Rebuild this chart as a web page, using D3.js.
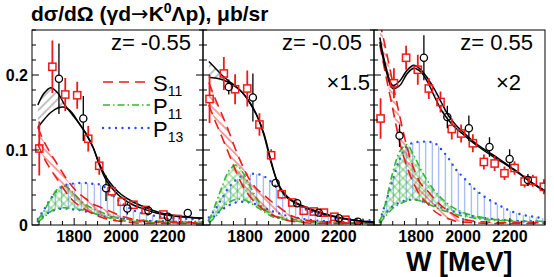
<!DOCTYPE html>
<html><head><meta charset="utf-8">
<script src="https://cdn.jsdelivr.net/npm/d3@7"></script>
<style>body{margin:0;background:#fff} svg{display:block} text{font-family:"Liberation Sans",Arial,sans-serif}</style>
</head><body><svg id="c" width="554" height="277"></svg>
<script>
// ---------- data ----------
const W = [1645,1670,1700,1730,1760,1790,1820,1850,1880,1910,1940,1970,2000,2050,2100,2150,2200,2250,2300,2350];
const panelLabels = ["z= -0.55","z= -0.05","z= 0.55"];
const scaleLabels = ["", "\u00d71.5", "\u00d72"];
const xTickLabels = [1800,2000,2200];
const yTickLabels = [0,0.1,0.2];
const legendNames = [["S","11"],["P","11"],["P","13"]];

const fitA = [
 [0.160,0.175,0.183,0.176,0.160,0.148,0.136,0.122,0.104,0.078,0.058,0.046,0.037,0.027,0.021,0.016,0.013,0.011,0.010,0.009],
 [0.218,0.210,0.200,0.192,0.185,0.176,0.163,0.146,0.122,0.086,0.055,0.039,0.032,0.024,0.018,0.013,0.010,0.007,0.005,0.004],
 [0.250,0.212,0.186,0.192,0.206,0.213,0.207,0.195,0.180,0.162,0.145,0.133,0.124,0.110,0.099,0.089,0.078,0.067,0.055,0.044]];
const fitB = [
 [0.130,0.140,0.150,0.156,0.157,0.150,0.136,0.122,0.104,0.080,0.062,0.050,0.041,0.031,0.024,0.018,0.014,0.012,0.010,0.009],
 [0.197,0.196,0.194,0.190,0.184,0.176,0.163,0.146,0.120,0.084,0.056,0.041,0.033,0.025,0.019,0.014,0.010,0.007,0.005,0.004],
 [0.244,0.208,0.182,0.186,0.201,0.209,0.204,0.190,0.170,0.152,0.139,0.129,0.121,0.108,0.097,0.087,0.077,0.066,0.055,0.046]];
const s11Hi = [
 [0.130,0.112,0.095,0.080,0.065,0.052,0.042,0.035,0.028,0.024,0.020,0.016,0.012,0.008,0.005,0.004,0.004,0.003,0.003,0.003],
 [0.190,0.170,0.148,0.125,0.100,0.078,0.060,0.048,0.040,0.032,0.025,0.018,0.012,0.007,0.005,0.004,0.003,0.003,0.003,0.003],
 [0.270,0.235,0.190,0.145,0.105,0.075,0.055,0.045,0.034,0.025,0.018,0.012,0.008,0.005,0.004,0.003,0.003,0.003,0.003,0.003]];
const s11Lo = [
 [0.108,0.090,0.074,0.060,0.046,0.034,0.026,0.020,0.015,0.011,0.008,0.006,0.005,0.003,0.002,0.002,0.002,0.002,0.002,0.002],
 [0.160,0.140,0.118,0.095,0.072,0.052,0.038,0.028,0.020,0.014,0.010,0.007,0.005,0.003,0.002,0.002,0.002,0.002,0.002,0.002],
 [0.240,0.200,0.155,0.110,0.078,0.055,0.038,0.028,0.018,0.012,0.008,0.005,0.004,0.003,0.002,0.002,0.002,0.002,0.002,0.002]];
const p11Hi = [
 [0.007,0.018,0.035,0.048,0.052,0.045,0.035,0.027,0.022,0.018,0.014,0.011,0.009,0.007,0.006,0.005,0.005,0.004,0.004,0.004],
 [0.005,0.025,0.050,0.072,0.080,0.070,0.052,0.035,0.022,0.015,0.011,0.009,0.008,0.006,0.005,0.004,0.004,0.003,0.003,0.003],
 [0.004,0.030,0.070,0.098,0.107,0.093,0.074,0.058,0.045,0.035,0.027,0.021,0.017,0.012,0.009,0.007,0.006,0.005,0.005,0.005]];
const p11Lo = [
 [0.004,0.010,0.018,0.022,0.023,0.022,0.021,0.019,0.016,0.013,0.010,0.008,0.006,0.005,0.004,0.003,0.003,0.003,0.003,0.003],
 [0.003,0.010,0.022,0.030,0.034,0.034,0.030,0.024,0.018,0.012,0.009,0.007,0.006,0.004,0.003,0.002,0.002,0.002,0.002,0.002],
 [0.002,0.012,0.022,0.028,0.032,0.034,0.032,0.028,0.024,0.020,0.017,0.014,0.012,0.009,0.007,0.006,0.005,0.004,0.004,0.004]];
const p13Hi = [
 [0.008,0.020,0.035,0.047,0.053,0.055,0.056,0.056,0.055,0.054,0.048,0.038,0.030,0.020,0.015,0.012,0.010,0.009,0.008,0.008],
 [0.010,0.020,0.035,0.050,0.060,0.066,0.068,0.068,0.065,0.058,0.049,0.040,0.032,0.022,0.016,0.012,0.009,0.008,0.007,0.006],
 [0.006,0.030,0.060,0.088,0.105,0.110,0.111,0.111,0.109,0.100,0.088,0.074,0.064,0.048,0.036,0.027,0.019,0.014,0.011,0.009]];
const p13Lo = [
 [0.005,0.012,0.018,0.021,0.022,0.021,0.020,0.018,0.016,0.013,0.011,0.010,0.009,0.007,0.006,0.005,0.005,0.004,0.004,0.004],
 [0.006,0.012,0.020,0.026,0.030,0.031,0.030,0.027,0.023,0.019,0.016,0.013,0.011,0.008,0.006,0.005,0.004,0.004,0.003,0.003],
 [0.004,0.015,0.025,0.030,0.033,0.034,0.032,0.029,0.026,0.023,0.020,0.017,0.015,0.011,0.009,0.007,0.006,0.005,0.005,0.004]];

// data points: [W, value, error]
const squares = [
 [[1651,0.102,0.036],[1707,0.211,0.035],[1762,0.174,0.022],[1813,0.173,0.018],[1860,0.115,0.017],[1907,0.079,0.012],[1960,0.045,0.007],[2003,0.031,0.005],[2053,0.027,0.004],[2105,0.020,0.004],[2181,0.014,0.004],[2240,0.008,0.003]],
 [[1648,0.168,0.032],[1709,0.202,0.022],[1757,0.181,0.020],[1809,0.182,0.024],[1861,0.134,0.015],[1911,0.093,0.008],[1956,0.041,0.006],[2001,0.030,0.004],[2050,0.019,0.003],[2093,0.018,0.003],[2136,0.0165,0.003],[2181,0.011,0.003],[2228,0.007,0.002]],
 [[1648,0.142,0.027],[1705,0.189,0.020],[1757,0.223,0.016],[1807,0.207,0.020],[1854,0.182,0.014],[1904,0.164,0.014],[1952,0.128,0.014],[1992,0.122,0.012],[2042,0.109,0.012],[2089,0.084,0.010],[2135,0.082,0.010],[2177,0.069,0.009],[2220,0.076,0.009],[2263,0.058,0.008],[2298,0.059,0.008],[2345,0.051,0.010]]];
const circles = [
 [[1735,0.195,0.047],[1839,0.142,0.030],[1936,0.049,0.017],[2027,0.022,0.008],[2117,0.019,0.006],[2200,0.011,0.004],[2285,0.016,0.004]],
 [[1730,0.184,0.010],[1833,0.170,0.032],[1930,0.056,0.006],[2022,0.029,0.004],[2114,0.0165,0.003],[2200,0.009,0.002],[2281,0.0045,0.002]],
 [[1729,0.119,0.015],[1833,0.223,0.030],[1933,0.144,0.015],[2025,0.129,0.017],[2113,0.104,0.013],[2199,0.088,0.013],[2277,0.060,0.008]]];

// ---------- layout ----------
const svg = d3.select("#c");
const panelX = [32, 203, 374], panelW = 171, yTop = 30, yBot = 225;
const RED = "#f01a1a", GREEN = "#33b833", BLUE = "#2a4cf0", LBLUE = "#8ea8f4";
const y = d3.scaleLinear().domain([0, 0.26]).range([yBot, yTop]);

const defs = svg.append("defs");
function hatch(id, angle, gap, color, w) {
  const p = defs.append("pattern").attr("id", id).attr("patternUnits", "userSpaceOnUse")
    .attr("width", gap).attr("height", gap).attr("patternTransform", `rotate(${angle})`);
  p.append("line").attr("x1", gap/2).attr("x2", gap/2).attr("y1", 0).attr("y2", gap)
    .attr("stroke", color).attr("stroke-width", w);
}
hatch("hBlack", 45, 6, "#333", 0.6);
hatch("hRed", -45, 5.5, RED, 0.8);
hatch("hGreenA", 45, 6, GREEN, 0.7);
hatch("hGreenB", -45, 6, GREEN, 0.7);
hatch("hBlue", 0, 6.5, LBLUE, 1.1);

// title
const title = svg.append("text").attr("x", 31).attr("y", 21).attr("font-size", 21).attr("font-weight", "bold");
title.append("tspan").text("d\u03c3/d\u03a9 (\u03b3d");
title.append("tspan").attr("font-family", "DejaVu Sans").attr("font-weight", "normal").text("\u2192");
title.append("tspan").text("K");
title.append("tspan").attr("dy", -8).attr("font-size", 14).text("0");
title.append("tspan").attr("dy", 8).text("\u039bp), \u03bcb/sr");

panelX.forEach((px, i) => {
  const x = d3.scaleLinear().domain([1620, 2350]).range([px, px + panelW]);
  const g = svg.append("g");
  const cid = "clip" + i;
  defs.append("clipPath").attr("id", cid).append("rect")
    .attr("x", px).attr("y", yTop).attr("width", panelW).attr("height", yBot - yTop);
  const pg = g.append("g").attr("clip-path", `url(#${cid})`);
  const cur = d3.curveCatmullRom.alpha(0.5);
  const band = (lo, hi) => d3.area().x((d, k) => x(W[k])).y0((d, k) => y(lo[k])).y1((d, k) => y(hi[k])).curve(cur)(W);
  const line = arr => d3.line().x((d, k) => x(W[k])).y((d, k) => y(arr[k])).curve(cur)(W);

  // P13 blue band
  pg.append("path").attr("d", band(p13Lo[i], p13Hi[i])).attr("fill", "url(#hBlue)");
  [p13Lo[i], p13Hi[i]].forEach(a => pg.append("path").attr("d", line(a)).attr("fill", "none")
    .attr("stroke", BLUE).attr("stroke-width", 2.4).attr("stroke-dasharray", "0 6.5").attr("stroke-linecap", "round"));
  // P11 green band
  pg.append("path").attr("d", band(p11Lo[i], p11Hi[i])).attr("fill", "url(#hGreenA)");
  pg.append("path").attr("d", band(p11Lo[i], p11Hi[i])).attr("fill", "url(#hGreenB)");
  [p11Lo[i], p11Hi[i]].forEach(a => pg.append("path").attr("d", line(a)).attr("fill", "none")
    .attr("stroke", GREEN).attr("stroke-width", 1.6).attr("stroke-dasharray", "7 3 1.5 3"));
  // S11 red band
  pg.append("path").attr("d", band(s11Lo[i], s11Hi[i])).attr("fill", "url(#hRed)");
  [s11Lo[i], s11Hi[i]].forEach(a => pg.append("path").attr("d", line(a)).attr("fill", "none")
    .attr("stroke", RED).attr("stroke-width", 1.6).attr("stroke-dasharray", "10 6"));
  // black fit band
  pg.append("path").attr("d", band(fitB[i], fitA[i])).attr("fill", "url(#hBlack)");
  [fitA[i], fitB[i]].forEach(a => pg.append("path").attr("d", line(a)).attr("fill", "none")
    .attr("stroke", "#000").attr("stroke-width", 1.5));

  // data points
  const ms = 3.6;
  squares[i].forEach(([w, v, e]) => {
    const cx = x(w), cy = y(v);
    if (y(v + e) < cy - ms) pg.append("line").attr("x1", cx).attr("x2", cx).attr("y1", y(v + e)).attr("y2", cy - ms).attr("stroke", RED).attr("stroke-width", 1.8);
    if (y(v - e) > cy + ms) pg.append("line").attr("x1", cx).attr("x2", cx).attr("y1", cy + ms).attr("y2", y(v - e)).attr("stroke", RED).attr("stroke-width", 1.8);
    pg.append("rect").attr("x", cx - ms).attr("y", cy - ms).attr("width", 2 * ms).attr("height", 2 * ms)
      .attr("fill", "none").attr("stroke", RED).attr("stroke-width", 1.5);
  });
  circles[i].forEach(([w, v, e]) => {
    const cx = x(w), cy = y(v);
    if (y(v + e) < cy - ms) pg.append("line").attr("x1", cx).attr("x2", cx).attr("y1", y(v + e)).attr("y2", cy - ms).attr("stroke", "#000").attr("stroke-width", 1.3);
    if (y(v - e) > cy + ms) pg.append("line").attr("x1", cx).attr("x2", cx).attr("y1", cy + ms).attr("y2", y(v - e)).attr("stroke", "#000").attr("stroke-width", 1.3);
    pg.append("circle").attr("cx", cx).attr("cy", cy).attr("r", ms).attr("fill", "none").attr("stroke", "#000").attr("stroke-width", 1.3);
  });

  // ticks
  const xMinor = d3.range(1650, 2351, 50);
  xMinor.forEach(t => {
    const major = t % 200 === 0;
    g.append("line").attr("x1", x(t)).attr("x2", x(t)).attr("y1", yBot).attr("y2", yBot - (major ? 7 : 4)).attr("stroke", "#000");
  });
  const yMinor = d3.range(0, 0.261, 0.02);
  const sides = i < 2 ? [px, px + panelW] : [px];
  sides.forEach((sx, si) => {
    const dir = si === 0 ? 1 : -1;
    yMinor.forEach(t => {
      const major = Math.abs(t * 10 - Math.round(t * 10)) < 1e-6;
      g.append("line").attr("x1", sx).attr("x2", sx + dir * (major ? 7 : 4)).attr("y1", y(t)).attr("y2", y(t)).attr("stroke", "#000");
    });
  });
  // frame
  g.append("rect").attr("x", px).attr("y", yTop).attr("width", panelW).attr("height", yBot - yTop)
    .attr("fill", "none").attr("stroke", "#000").attr("stroke-width", 1);

  // x tick labels
  xTickLabels.forEach(t => g.append("text").attr("x", x(t)).attr("y", 242).attr("text-anchor", "middle")
    .attr("font-size", 16).attr("font-weight", "bold").text(t));
  if (i === 0) yTickLabels.forEach(t => g.append("text").attr("x", 28).attr("y", y(t) + 6).attr("text-anchor", "end")
    .attr("font-size", 16).attr("font-weight", "bold").text(t));

  // panel labels
  g.append("text").attr("x", px + panelW - 12).attr("y", 50).attr("text-anchor", "end").attr("font-size", 22).text(panelLabels[i]);
  if (scaleLabels[i]) g.append("text").attr("x", px + panelW - 4 - (i === 2 ? 20 : 0)).attr("y", 90).attr("text-anchor", "end").attr("font-size", 22).text(scaleLabels[i]);
});

// legend (panel 1)
const legY = [82, 105, 128];
const legStyles = [
  {stroke: RED, w: 1.6, dash: "10 6", cap: "butt"},
  {stroke: GREEN, w: 1.6, dash: "7 3 1.5 3", cap: "butt"},
  {stroke: BLUE, w: 2.4, dash: "0 6.5", cap: "round"}];
legendNames.forEach((nm, k) => {
  const s = legStyles[k];
  svg.append("line").attr("x1", 103).attr("x2", 150).attr("y1", legY[k]).attr("y2", legY[k])
    .attr("stroke", s.stroke).attr("stroke-width", s.w).attr("stroke-dasharray", s.dash).attr("stroke-linecap", s.cap);
  const t = svg.append("text").attr("x", 153).attr("y", legY[k] + 9).attr("font-size", 22);
  t.append("tspan").text(nm[0]);
  t.append("tspan").attr("dy", 5).attr("font-size", 14).text(nm[1]);
});

// x-axis title
svg.append("text").attr("x", 406).attr("y", 271).attr("font-size", 27).attr("font-weight", "bold").text("W [MeV]");
</script></body></html>
